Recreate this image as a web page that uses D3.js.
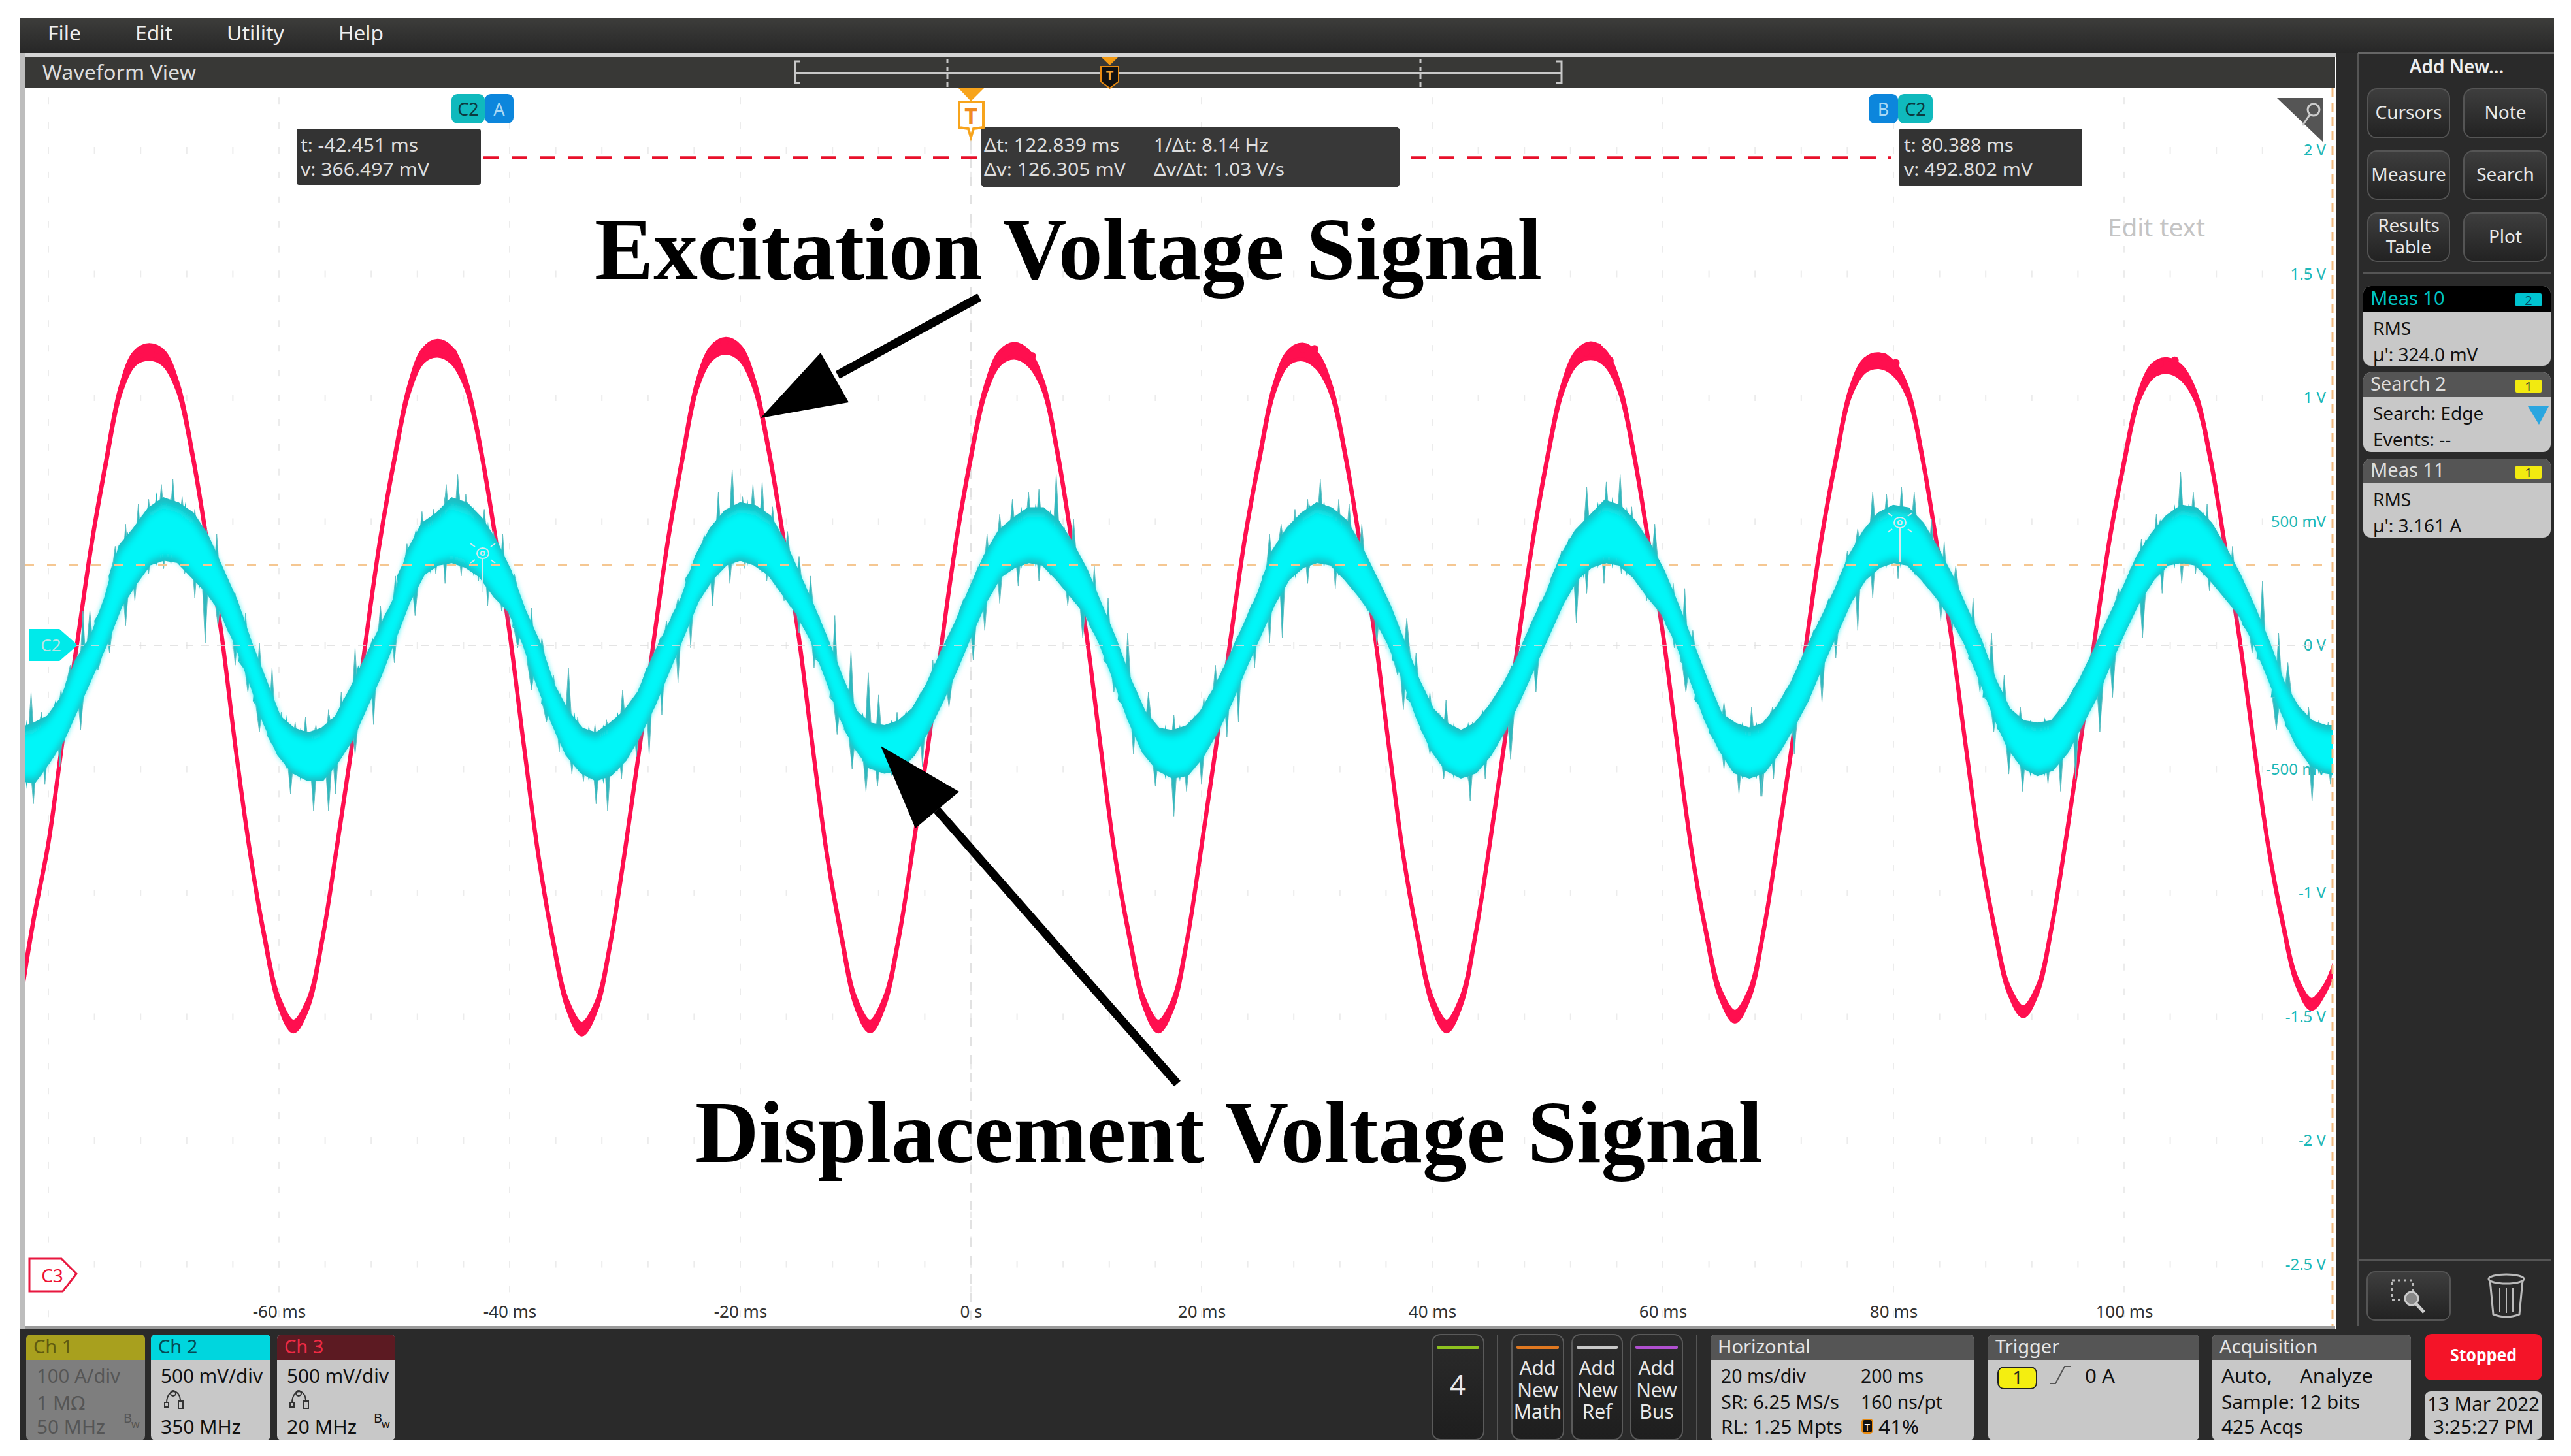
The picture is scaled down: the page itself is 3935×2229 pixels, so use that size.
<!DOCTYPE html>
<html lang="en">
<head>
<meta charset="UTF-8">
<title>Waveform View</title>
<script src="https://cdn.jsdelivr.net/npm/d3@7"></script>
<style>
  body { margin: 0; background: #fff; }
  text { font-family: "Noto Sans", sans-serif; }
</style>
</head>
<body>
<svg width="3935" height="2229"></svg>
<script>
// values, one sample every 1.25 ms starting at -82.5 ms
var redVolts = [-1.45,-1.10,-.80,-.38,.01,.41,.74,1.03,1.16,1.185,1.16,1.04,.77,.42,.05,-.42,-.84,-1.18,-1.44,-1.54,
  -1.45,-1.19,-.82,-.43,.01,.42,.75,1.03,1.17,1.20,1.17,1.05,.79,.44,.05,-.41,-.85,-1.19,-1.45,-1.55,
  -1.46,-1.20,-.83,-.42,.02,.43,.76,1.05,1.18,1.21,1.18,1.05,.78,.43,.06,-.40,-.84,-1.17,-1.44,-1.54,
  -1.44,-1.18,-.81,-.42,.02,.43,.76,1.03,1.16,1.19,1.16,1.05,.78,.42,.05,-.41,-.85,-1.18,-1.44,-1.54,
  -1.45,-1.19,-.81,-.41,.02,.43,.75,1.03,1.16,1.185,1.15,1.03,.76,.41,.05,-.41,-.85,-1.18,-1.44,-1.54,
  -1.44,-1.17,-.80,-.40,.03,.43,.76,1.03,1.16,1.19,1.16,1.04,.77,.42,.05,-.40,-.83,-1.16,-1.41,-1.50,
  -1.41,-1.15,-.78,-.39,.03,.43,.75,1.02,1.13,1.15,1.12,1.02,.76,.41,.04,-.40,-.82,-1.14,-1.39,-1.48,
  -1.39,-1.13,-.77,-.38,.04,.43,.74,1.0,1.11,1.13,1.10,1.0,.75,.40,.03,-.40,-.81,-1.12,-1.36,-1.45,
  -1.38,-1.22];
// half thickness of the red trace at each sample, it fattens at peaks and troughs
var redSpread = [.012,.004,.004,.004,.004,.004,.006,.012,.024,.028,.026,.014,.006,.004,.004,.004,.004,.006,.014,.02,
  .014,.004,.004,.004,.004,.004,.006,.012,.024,.03,.028,.014,.006,.004,.004,.004,.004,.006,.014,.022,
  .014,.004,.004,.004,.004,.004,.006,.012,.024,.028,.026,.014,.006,.004,.004,.004,.004,.006,.014,.02,
  .014,.004,.004,.004,.004,.004,.006,.012,.024,.028,.026,.014,.006,.004,.004,.004,.004,.006,.014,.02,
  .014,.004,.004,.004,.004,.004,.006,.012,.024,.03,.028,.014,.006,.004,.004,.004,.004,.006,.014,.02,
  .014,.004,.004,.004,.004,.004,.006,.012,.024,.03,.026,.014,.006,.004,.004,.004,.004,.006,.014,.02,
  .014,.004,.004,.004,.004,.004,.006,.012,.024,.026,.024,.014,.006,.004,.004,.004,.004,.006,.012,.018,
  .012,.004,.004,.004,.004,.004,.006,.012,.024,.026,.024,.014,.006,.004,.004,.004,.004,.006,.012,.018,
  .012,.008];
// little bumps on the noisy peaks and troughs: [ms, volts]
var redBumps = [[-72,1.21],[-70.5,1.21],[-47.1,1.204],[-46,1.228],[-44.9,1.198],
  [-58.8,-1.546],[-33.8,-1.56],
  [-21.4,1.24],[-22.4,1.19],[-20.3,1.2],[3.2,1.2],[4.1,1.22],[5.3,1.185],
  [-8.7,-1.546],[16.3,-1.546],
  [28.8,1.213],[29.8,1.213],[53.3,1.2],[54.4,1.22],[55.4,1.167],
  [41.6,-1.546],[66.1,-1.51],
  [77.7,1.167],[79.2,1.18],[80.2,1.157],[103.1,1.154],[104.4,1.167],
  [91.6,-1.49],[116.3,-1.47]];
var cyanUpper = [-.34,-.32,-.29,-.21,-.06,.03,.19,.40,.47,.55,.59,.57,.53,.44,.31,.18,.01,-.14,-.29,-.34,
  -.36,-.34,-.29,-.18,-.06,.06,.18,.38,.49,.53,.59,.57,.51,.42,.30,.14,.01,-.16,-.27,-.34,
  -.36,-.32,-.27,-.19,-.05,.07,.19,.36,.47,.54,.57,.56,.52,.42,.29,.16,.02,-.13,-.27,-.32,
  -.33,-.31,-.26,-.16,-.03,.09,.23,.36,.46,.51,.55,.55,.50,.41,.30,.16,.02,-.14,-.27,-.34,
  -.35,-.33,-.27,-.17,-.05,.08,.21,.38,.47,.53,.57,.55,.50,.40,.28,.16,.01,-.14,-.26,-.32,
  -.35,-.32,-.25,-.16,-.05,.09,.21,.36,.46,.52,.58,.56,.50,.41,.30,.16,.01,-.14,-.28,-.32,
  -.34,-.32,-.25,-.15,-.02,.10,.22,.36,.46,.53,.56,.55,.49,.39,.28,.15,.02,-.14,-.26,-.31,
  -.32,-.31,-.24,-.14,-.02,.11,.23,.36,.45,.52,.56,.55,.49,.39,.28,.15,.01,-.15,-.25,-.31,
  -.33,-.33];
var cyanLower = [-.54,-.55,-.47,-.38,-.25,-.12,.01,.16,.25,.33,.35,.34,.28,.22,.14,.01,-.14,-.31,-.44,-.51,
  -.54,-.54,-.47,-.38,-.25,-.12,.03,.18,.29,.33,.34,.32,.28,.20,.14,.01,-.16,-.31,-.44,-.51,
  -.54,-.52,-.46,-.36,-.24,-.10,.04,.18,.27,.33,.35,.33,.29,.21,.13,.02,-.13,-.29,-.41,-.49,
  -.51,-.50,-.44,-.34,-.22,-.09,.05,.18,.28,.32,.34,.33,.27,.20,.13,.01,-.14,-.30,-.43,-.50,
  -.53,-.52,-.45,-.35,-.23,-.09,.04,.17,.27,.32,.34,.33,.27,.20,.12,.01,-.13,-.29,-.42,-.50,
  -.53,-.51,-.44,-.34,-.22,-.09,.04,.17,.27,.32,.34,.33,.28,.20,.13,.01,-.14,-.30,-.42,-.51,
  -.53,-.51,-.43,-.33,-.22,-.08,.05,.18,.27,.32,.34,.33,.27,.20,.12,.01,-.13,-.28,-.41,-.49,
  -.52,-.50,-.43,-.32,-.21,-.07,.06,.18,.27,.33,.34,.33,.27,.20,.13,.02,-.12,-.27,-.40,-.48,
  -.51,-.52];
// small teeth on the band edge, one between each pair of samples
var cyanTopTeeth = [-.30,-.27,-.22,-.10,.02,.13,.34,.46,.53,.62,.61,.58,.50,.41,.27,.13,-.04,-.19,-.28,-.33,
  -.33,-.28,-.21,-.08,.03,.14,.32,.47,.52,.60,.62,.56,.50,.38,.26,.10,-.04,-.19,-.27,-.32,
  -.32,-.27,-.21,-.09,.04,.15,.30,.45,.53,.58,.59,.57,.49,.38,.25,.12,-.03,-.17,-.27,-.31,
  -.30,-.26,-.19,-.07,.05,.19,.32,.43,.50,.56,.58,.55,.48,.38,.25,.11,-.04,-.18,-.29,-.32,
  -.32,-.28,-.20,-.09,.04,.17,.31,.45,.51,.57,.59,.55,.47,.36,.24,.11,-.05,-.18,-.27,-.31,
  -.31,-.26,-.19,-.08,.04,.18,.31,.44,.50,.58,.60,.56,.48,.38,.25,.12,-.05,-.19,-.28,-.31,
  -.31,-.26,-.18,-.06,.07,.19,.31,.44,.51,.57,.58,.54,.46,.36,.24,.11,-.04,-.18,-.27,-.30,
  -.29,-.25,-.17,-.06,.07,.20,.32,.43,.51,.57,.58,.54,.46,.36,.24,.11,-.05,-.18,-.26,-.30,
  -.31];
var cyanBottomTeeth = [-.58,-.53,-.45,-.33,-.20,-.07,.07,.19,.28,.32,.32,.29,.23,.16,.05,-.09,-.25,-.40,-.50,-.55,
  -.57,-.53,-.44,-.34,-.20,-.06,.09,.22,.29,.31,.31,.28,.22,.15,.05,-.09,-.26,-.39,-.49,-.55,
  -.56,-.51,-.43,-.32,-.19,-.05,.09,.21,.28,.32,.32,.29,.23,.15,.06,-.07,-.23,-.37,-.47,-.52,
  -.53,-.49,-.41,-.30,-.17,-.04,.09,.21,.28,.31,.31,.28,.22,.15,.05,-.08,-.24,-.38,-.48,-.54,
  -.55,-.50,-.42,-.31,-.18,-.04,.09,.20,.27,.31,.31,.28,.22,.14,.05,-.07,-.23,-.37,-.48,-.54,
  -.55,-.49,-.41,-.30,-.17,-.04,.09,.20,.27,.31,.31,.28,.22,.15,.05,-.08,-.24,-.38,-.48,-.54,
  -.54,-.49,-.40,-.29,-.16,-.03,.10,.21,.27,.31,.31,.28,.22,.14,.05,-.07,-.22,-.36,-.47,-.53,
  -.53,-.48,-.39,-.28,-.15,-.02,.10,.21,.28,.31,.31,.28,.22,.15,.06,-.06,-.21,-.35,-.46,-.52,
  -.54];
// the tall noise spikes on the cyan trace: [ms, volts]
var cyanSpikes = [[-81.5,-.19],[-80.6,-.27],[-78.9,-.18],[-78.1,-.08],[-77.0,.14],[-76.4,.14],[-74.2,.40],[-73.3,.49],[-72.2,.57],[-71.3,.59],[-70.2,.65],[-69.2,.67],[-68.4,.60],[-67.3,.55],[-66.3,.47],[-65.4,.45],[-63.8,.21],[-62.9,.13],[-61.7,.01],[-60.6,-.09],[-59.8,-.27],[-58.6,-.31],[-57.7,-.29],[-56.8,-.32],[-55.7,-.26],[-54.6,-.19],[-53.4,-.01],[-51.2,.16],[-49.9,.28],[-48.9,.41],[-47.6,.54],[-46.6,.55],[-45.5,.65],[-44.5,.69],[-43.8,.61],[-42.2,.55],[-41.4,.46],[-40.6,.45],[-39.6,.29],[-38.1,.15],[-37.2,.03],[-36.2,-.12],[-34.9,-.09],[-34.1,-.29],[-32.6,-.32],[-31.6,-.30],
  [-81.3,-.64],[-80.3,-.56],[-79.0,-.49],[-77.2,-.34],[-75.7,-.10],[-74.7,-.03],[-73.3,.08],[-72.5,.18],[-71.3,.29],[-70.0,.31],[-68.2,.29],[-67.3,.19],[-66.4,.01],[-65.3,.08],[-63.8,-.08],[-62.7,-.19],[-61.7,-.35],[-60.4,-.42],[-59.0,-.60],[-57.0,-.67],[-55.7,-.67],[-55.1,-.60],[-53.4,-.44],[-51.8,-.32],[-50.0,-.07],[-48.2,.12],[-46.4,.29],[-45.6,.25],[-44.2,.28],[-42.7,.26],[-41.9,.16],[-40.7,.14],[-39.3,-.01],[-38.1,-.18],[-36.8,-.31],[-35.7,-.43],[-34.6,-.52],[-33.6,-.55],[-32.5,-.64],
  [-31.5,-.31],[-30.2,-.18],[-28.7,-.18],[-26.4,.10],[-25.4,.19],[-23.2,.43],[-21.9,.62],[-20.7,.71],[-19.8,.60],[-18.9,.65],[-18.1,.66],[-17.2,.56],[-15.9,.46],[-14.9,.36],[-13.9,.28],[-11.8,.12],[-10.4,-.02],[-8.9,-.11],[-8.0,-.20],[-6.4,-.27],[-4.5,-.22],[-3.3,-.06],[-1.4,.08],[1.4,.45],[2.5,.53],[3.6,.59],[5.0,.62],[5.9,.63],[7.4,.69],[8.9,.51],[10.7,.32],[11.9,.19],[13.6,.05],[15.4,-.19],[17.6,-.28],
  [-31.5,-.67],[-30.3,-.54],[-29,-.45],[-27.9,-.44],[-26.8,-.28],[-25.4,-.15],[-24.3,-.01],[-22.4,.16],[-20.9,.25],[-19.6,.31],[-17.7,.26],[-16.2,.18],[-14.9,.05],[-13.6,-.09],[-11.6,-.36],[-10.3,-.50],[-9.1,-.59],[-8.1,-.57],[-6.3,-.58],[-4.2,-.49],[-1.9,-.25],[.2,-.06],[1.2,.06],[2.5,.17],[4.1,.24],[5.9,.26],[8.4,.16],[9.7,.03],[12.4,-.19],[14.1,-.44],[16,-.57],[17.6,-.69],
  [18.8,-.32],[20.2,-.21],[21.2,-.08],[23.2,.03],[24.8,.2],[25.9,.45],[26.9,.49],[28.1,.55],[29.2,.59],[30.3,.67],[31.9,.59],[32.8,.57],[33.9,.49],[36,.19],[37.8,.11],[38.6,-.03],[39.8,-.19],[41.2,-.22],[43.5,-.31],[44.5,-.28],[46,-.19],[47.2,-.06],[49.7,.18],[51.2,.38],[53.4,.64],[55.1,.66],[56.3,.69],[57.3,.56],[59.3,.49],[60.9,.25],[61.9,.23],[62.6,.06],[65.3,-.23],[67.7,-.25],[69.2,-.30],
  [18.7,-.59],[20,-.56],[22.2,-.37],[23.2,-.31],[24.6,-.09],[25.9,.01],[27,.03],[29.2,.25],[31.6,.23],[32.6,.26],[34.4,.14],[35.2,0],[37,-.12],[37.5,-.26],[39.8,-.44],[41,-.54],[43.3,-.63],[44.6,-.54],[46.8,-.46],[49,-.19],[52.5,.09],[53.4,.21],[54.9,.25],[56.4,.29],[58.6,.18],[61,-.01],[62,-.19],[64.3,-.38],[65.3,-.5],[66.6,-.6],[68.6,-.61],
  [69.5,-.25],[71.6,-.17],[73.5,.10],[74.9,.19],[76,.38],[76.9,.47],[78.2,.62],[79.4,.61],[80.7,.64],[81.8,.62],[83.3,.51],[84.4,.42],[85.4,.32],[86.9,.19],[88.5,.05],[89.6,-.12],[91,-.25],[93.2,-.30],[94.8,-.25],[95.9,-.19],[96.9,-.10],[99.5,.23],[101.5,.43],[102.8,.53],[104.9,.70],[106,.62],[107.2,.57],[109.4,.40],[112,.26],[113.4,.05],[114.2,-.07],[116,-.25],[117.7,-.31],
  [68.5,-.61],[69.6,-.54],[71.4,-.44],[73.8,-.23],[75,-.05],[76.9,.06],[78.2,.19],[80.4,.27],[82.6,.25],[84.1,.10],[85.1,.06],[87.5,-.19],[88.7,-.35],[90,-.52],[91.2,-.59],[93.4,-.56],[94.5,-.59],[95.8,-.54],[97.9,-.35],[99,-.21],[101.6,.03],[103.3,.21],[105,.25],[106.2,.29],[107.4,.22],[108.8,.19],[111.1,-.03],[113.2,-.34],[114.3,-.34],[116.3,-.63],[117.9,-.56]];

var timeTicks = [-60, -40, -20, 0, 20, 40, 60, 80, 100];
var timeLabels = ['-60 ms', '-40 ms', '-20 ms', '0 s', '20 ms', '40 ms', '60 ms', '80 ms', '100 ms'];
var voltTicks = [2, 1.5, 1, .5, 0, -.5, -1, -1.5, -2, -2.5];
var voltLabels = ['2 V', '1.5 V', '1 V', '500 mV', '0 V', '-500 mV', '-1 V', '-1.5 V', '-2 V', '-2.5 V'];
var triggerLevel = .325; // orange dashed level
var cursorLevel = 1.97;  // red dashed cursor line

var svg = d3.select('svg');
var defs = svg.append('defs');

// 20 ms = 353 px, 500 mV = 189.5 px on the screen
var x = d3.scaleLinear().domain([-60, 100]).range([427, 3251]);
var y = d3.scaleLinear().domain([-2.5, 2]).range([1935.5, 230]);
var sampleTimes = redVolts.map(function (d, i) { return -82.5 + i * 1.25; });

function grad(id, a, b) {
  var g = defs.append('linearGradient').attr('id', id).attr('x1', 0).attr('y1', 0).attr('x2', 0).attr('y2', 1);
  g.append('stop').attr('offset', 0).attr('stop-color', a);
  g.append('stop').attr('offset', 1).attr('stop-color', b);
}
grad('topbar', '#3d3d3b', '#272727');
grad('btn', '#3e3e3e', '#222');
grad('btn2', '#2b2b2b', '#1e1e1e');
defs.append('filter').attr('id', 'soft').append('feGaussianBlur').attr('stdDeviation', 5);

function box(parent, x0, y0, x1, y1, fill, r, stroke) {
  return parent.append('rect').attr('x', x0).attr('y', y0).attr('width', x1 - x0).attr('height', y1 - y0)
    .attr('fill', fill).attr('rx', r || 0).attr('stroke', stroke || 'none').attr('stroke-width', stroke ? 2 : 0);
}
function label(parent, px, py, str, size, fill, anchor, width) {
  var t = parent.append('text').attr('x', px).attr('y', py).text(str).attr('font-size', size)
    .attr('fill', fill).attr('text-anchor', anchor || 'start');
  if (width) t.attr('textLength', width).attr('lengthAdjust', 'spacingAndGlyphs');
  return t;
}
// several lines held in one text element
function stacked(parent, px, py, rows, gap, size, fill) {
  var t = parent.append('text').attr('font-size', size).attr('fill', fill).attr('text-anchor', 'middle');
  rows.forEach(function (s, i) {
    t.append('tspan').attr('x', px).attr('y', py + i * gap).text(s);
  });
}

// ---- dark frame
box(svg, 31, 27, 3909, 81, 'url(#topbar)');
box(svg, 31, 81, 38, 2035, '#bdbdbd');
box(svg, 38, 81, 3576, 87, '#d4d4d4');
box(svg, 38, 87, 3574, 135, '#383836');
box(svg, 3576, 81, 3909, 2035, '#2a2a2a');
box(svg, 31, 2035, 3909, 2205, '#2a2a2a');
box(svg, 38, 2030, 3574, 2035, '#9a9a9a');
svg.append('line').attr('x1', 3609).attr('x2', 3609).attr('y1', 81).attr('y2', 2030).attr('stroke', '#555').attr('stroke-width', 2);
svg.append('line').attr('x1', 3609).attr('x2', 3909).attr('y1', 81).attr('y2', 81).attr('stroke', '#666').attr('stroke-width', 2);

[['File', 73, 51], ['Edit', 207, 57], ['Utility', 347, 88], ['Help', 518, 69]].forEach(function (m) {
  label(svg, m[1], 62, m[0], 30, '#eee', 'start', m[2]);
});
label(svg, 65, 122, 'Waveform View', 31, '#ddd', 'start', 235);

// overview bar
var bar = svg.append('g').attr('stroke', '#c8c8c8').attr('fill', 'none').attr('stroke-width', 3);
bar.append('line').attr('x1', 1217).attr('x2', 2390).attr('y1', 112).attr('y2', 112).attr('stroke-width', 4);
bar.append('path').attr('d', 'M1225,94H1217V127H1225M2381,94H2390V127H2381');
bar.append('line').attr('x1', 1450).attr('x2', 1450).attr('y1', 90).attr('y2', 134).attr('stroke-dasharray', '7 5');
bar.append('line').attr('x1', 2174).attr('x2', 2174).attr('y1', 90).attr('y2', 134).attr('stroke-dasharray', '7 5');
svg.append('path').attr('d', 'M1686,88H1711L1698.500,100Z').attr('fill', '#f39a12');
svg.append('path').attr('d', 'M1685,102H1712V125L1698.500,135L1685,125Z').attr('fill', '#111').attr('stroke', '#e88a10').attr('stroke-width', 2);
label(svg, 1698.5, 122, 'T', 20, '#f3a030', 'middle').attr('font-weight', 700);

// ---- plot
svg.append('clipPath').attr('id', 'plotClip').append('rect').attr('x', 38).attr('y', 135).attr('width', 3532).attr('height', 1895);
var plot = svg.append('g');

// faint grid dots
var gridColor = '#ececec';
var minorTimes = d3.range(-80, 120, 4);
var majorTimes = d3.range(-80, 120, 20);
var minorVolts = d3.range(-27, 23).map(function (d) { return d / 10; });
var gridDots = [];
majorTimes.forEach(function (t) { minorVolts.forEach(function (v) { gridDots.push([t, v]); }); });
[-2.5, -2, -1.5, -1, -.5, 0, .5, 1, 1.5, 2].forEach(function (v) { minorTimes.forEach(function (t) { gridDots.push([t, v]); }); });
plot.append('g').selectAll('rect').data(gridDots).enter().append('rect')
  .attr('x', function (d) { return x(d[0]) - 1; }).attr('y', function (d) { return y(d[1]) - 5; })
  .attr('width', 2).attr('height', 10).attr('fill', gridColor);
plot.append('line').attr('x1', x(0)).attr('x2', x(0)).attr('y1', 215).attr('y2', 2030)
  .attr('stroke', '#e2e2e2').attr('stroke-width', 3).attr('stroke-dasharray', '14 14');

// axes
var xAxis = d3.axisBottom(x).tickValues(timeTicks).tickSize(0)
  .tickFormat(function (d, i) { return timeLabels[i]; });
var gx = plot.append('g').attr('transform', 'translate(0,1983)').call(xAxis);
gx.select('.domain').remove();
gx.selectAll('text').attr('font-size', 26).attr('fill', '#333').attr('y', 16).attr('font-family', '"Noto Sans"');

var yAxis = d3.axisRight(y).tickValues(voltTicks).tickSize(0)
  .tickFormat(function (d, i) { return voltLabels[i]; });
var gy = plot.append('g').attr('transform', 'translate(3560,0)').call(yAxis);
gy.select('.domain').remove();
gy.selectAll('text').attr('font-size', 24).attr('fill', '#1bb8b8').attr('x', 0)
  .attr('text-anchor', 'end').attr('font-family', '"DejaVu Sans"');

label(plot, 3226, 362, 'Edit text', 38, '#c4c4c4', 'start', 149);

// ---- traces
var wave = plot.append('g').attr('clip-path', 'url(#plotClip)');
var samples = sampleTimes.map(function (t, i) {
  return { t: t, red: redVolts[i], spread: redSpread[i], hi: cyanUpper[i], lo: cyanLower[i] };
});

var redBand = d3.area().curve(d3.curveCatmullRom)
  .x(function (d) { return x(d.t); })
  .y0(function (d) { return y(d.red - d.spread); })
  .y1(function (d) { return y(d.red + d.spread); });
wave.append('path').datum(samples).attr('d', redBand)
  .attr('fill', '#ff0f4f').attr('stroke', '#ff0f4f').attr('stroke-width', 6);
wave.append('g').selectAll('circle').data(redBumps).enter().append('circle')
  .attr('cx', function (d) { return x(d[0]); }).attr('cy', function (d) { return y(d[1]) + (d[1] > 0 ? 6 : -6); })
  .attr('r', 6).attr('fill', '#ff0f4f');

// spikes and teeth are thin wedges that grow out of the middle of the band
var nearest = d3.bisector(function (d) { return d.t; }).center;
function wedge(halfWidth) {
  return function (d) {
    var s = samples[nearest(samples, d[0])];
    var base = y((s.hi + s.lo) / 2), px = x(d[0]);
    return 'M' + (px - halfWidth) + ',' + base + 'L' + px + ',' + y(d[1]) + 'L' + (px + halfWidth) + ',' + base + 'Z';
  };
}
var teeth = [];
cyanTopTeeth.forEach(function (v, i) { teeth.push([sampleTimes[i] + .625, v]); });
cyanBottomTeeth.forEach(function (v, i) { teeth.push([sampleTimes[i] + .625, v]); });
wave.append('g').selectAll('path').data(teeth).enter().append('path')
  .attr('d', wedge(7)).attr('fill', '#1fbcc2');
wave.append('g').selectAll('path').data(cyanSpikes).enter().append('path')
  .attr('d', wedge(6)).attr('fill', '#2fb8be').attr('stroke', '#62bfc3').attr('stroke-width', 1);

function bandPath(topShare, bottomShare) {
  return d3.area()
    .x(function (d) { return x(d.t); })
    .y0(function (d) { return y(d.lo + (d.hi - d.lo) * bottomShare); })
    .y1(function (d) { return y(d.hi - (d.hi - d.lo) * topShare); });
}
wave.append('path').datum(samples).attr('d', bandPath(0, 0))
  .attr('fill', '#1fbcc2').attr('stroke', '#1fbcc2').attr('stroke-width', 6);
var core = wave.append('g').attr('filter', 'url(#soft)');
core.append('path').datum(samples).attr('d', bandPath(.1, .06))
  .attr('fill', '#08e2e6').attr('stroke', '#08e2e6').attr('stroke-width', 6);
core.append('path').datum(samples).attr('d', bandPath(.2, .14))
  .attr('fill', '#00f6f8').attr('stroke', '#00f6f8').attr('stroke-width', 6);

// trigger level and ground
plot.append('line').attr('x1', 38).attr('x2', 3570).attr('y1', y(triggerLevel)).attr('y2', y(triggerLevel))
  .attr('stroke', '#f5c792').attr('stroke-width', 3).attr('stroke-dasharray', '14 20');
plot.append('line').attr('x1', 116).attr('x2', 3570).attr('y1', y(0)).attr('y2', y(0))
  .attr('stroke', '#dedede').attr('stroke-width', 2).attr('stroke-dasharray', '12 12').attr('opacity', .8);
plot.append('line').attr('x1', 3570).attr('x2', 3570).attr('y1', 135).attr('y2', 2030)
  .attr('stroke', '#f2bb80').attr('stroke-width', 3).attr('stroke-dasharray', '14 8');

// measurement markers on the trace
[[739, 847], [2908, 800]].forEach(function (m) {
  var g = plot.append('g').attr('transform', 'translate(' + m[0] + ',' + m[1] + ')').attr('fill', 'none').attr('stroke', '#d8e8ec').attr('stroke-width', 2);
  g.append('ellipse').attr('rx', 9).attr('ry', 8);
  g.append('circle').attr('r', 3);
  g.append('line').attr('x1', 0).attr('y1', 8).attr('x2', 0).attr('y2', 60);
  g.selectAll('.petal').data([[-1, -1], [1, -1], [-1, 1], [1, 1]]).enter().append('line').attr('class', 'petal')
    .attr('x1', function (d) { return d[0] * 12; }).attr('y1', function (d) { return d[1] * 10; })
    .attr('x2', function (d) { return d[0] * 19; }).attr('y2', function (d) { return d[1] * 15; });
});

// channel flags
plot.append('path').attr('d', 'M45,963H91L116,985V990L91,1012H45Z').attr('fill', '#00eaea');
label(plot, 78, 997, 'C2', 26, '#b8e4e4', 'middle');
plot.append('path').attr('d', 'M45,1927H94L117,1950L96,1977H45Z').attr('fill', '#fff').attr('stroke', '#e8173f').attr('stroke-width', 3);
label(plot, 80, 1963, 'C3', 28, '#ee1133', 'middle');

// cursor readouts
plot.append('line').attr('x1', 740).attr('x2', 2894).attr('y1', y(cursorLevel)).attr('y2', y(cursorLevel))
  .attr('stroke', '#e8102a').attr('stroke-width', 4).attr('stroke-dasharray', '24 19');
function cursorTag(x0, parts) {
  parts.forEach(function (p) {
    box(plot, x0 + p[1], 144, x0 + p[2], 189, p[3], 9);
    label(plot, (2 * x0 + p[1] + p[2]) / 2, 177, p[0], 27, p[4], 'middle');
  });
}
cursorTag(691, [['C2', 0, 51, '#10b9bd', '#0c3a40'], ['A', 51, 95, '#0c86dc', '#a8d8f4']]);
cursorTag(2860, [['B', 0, 45, '#0c86dc', '#a8d8f4'], ['C2', 45, 98, '#10b9bd', '#0c3a40']]);

box(plot, 454, 197, 736, 283, '#333', 4);
label(plot, 460, 232, 't: -42.451 ms', 28, '#ddd', 'start', 180);
label(plot, 460, 269, 'v: 366.497 mV', 28, '#ddd', 'start', 197);
box(plot, 1501, 194, 2143, 287, '#383838', 8);
label(plot, 1506, 232, '\u0394t: 122.839 ms', 28, '#ddd', 'start', 207);
label(plot, 1766, 232, '1/\u0394t: 8.14 Hz', 28, '#ddd', 'start', 175);
label(plot, 1506, 269, '\u0394v: 126.305 mV', 28, '#ddd', 'start', 217);
label(plot, 1766, 269, '\u0394v/\u0394t: 1.03 V/s', 28, '#ddd', 'start', 200);
box(plot, 2907, 197, 3187, 285, '#333', 2);
label(plot, 2914, 232, 't: 80.388 ms', 28, '#ddd', 'start', 168);
label(plot, 2914, 269, 'v: 492.802 mV', 28, '#ddd', 'start', 197);

// orange trigger marker
plot.append('path').attr('d', 'M1467,135H1506L1486,155Z').attr('fill', '#f7a41c');
plot.append('path').attr('d', 'M1468,156H1505V195L1490,197L1486,210L1482,197L1468,195Z').attr('fill', '#fff').attr('stroke', '#f7a41c').attr('stroke-width', 4);
label(plot, 1486, 190, 'T', 34, '#f08a20', 'middle').attr('font-weight', 700);

// zoom corner
plot.append('path').attr('d', 'M3485,150H3556V218Z').attr('fill', '#555');
plot.append('circle').attr('cx', 3541).attr('cy', 168).attr('r', 9).attr('fill', 'none').attr('stroke', '#ccc').attr('stroke-width', 3);
plot.append('line').attr('x1', 3535).attr('y1', 176).attr('x2', 3524).attr('y2', 192).attr('stroke', '#ccc').attr('stroke-width', 3);

// ---- annotations
var note = svg.append('g');
label(note, 910, 427, 'Excitation Voltage Signal', 135, '#000', 'start', 1450)
  .attr('font-weight', 700).style('font-family', '"Liberation Serif"');
label(note, 1064, 1779, 'Displacement Voltage Signal', 135, '#000', 'start', 1634)
  .attr('font-weight', 700).style('font-family', '"Liberation Serif"');
note.append('line').attr('x1', 1499).attr('y1', 455).attr('x2', 1282).attr('y2', 574).attr('stroke', '#000').attr('stroke-width', 13);
note.append('path').attr('d', 'M1164,640L1256,540L1299,616Z').attr('fill', '#000');
note.append('line').attr('x1', 1434).attr('y1', 1240).attr('x2', 1802).attr('y2', 1659).attr('stroke', '#000').attr('stroke-width', 13);
note.append('path').attr('d', 'M1348,1142L1468,1212L1401,1268Z').attr('fill', '#000');

// ---- right panel
var side = svg.append('g');
label(side, 3760, 112, 'Add New...', 28, '#eee', 'middle').attr('font-weight', 600);
function sideBtn(x0, x1, y0, y1, rows, base) {
  box(side, x0, y0, x1, y1, 'url(#btn)', 14, '#555');
  stacked(side, (x0 + x1) / 2, base, rows, 33, 28, '#e8e8e8');
}
sideBtn(3624, 3749, 136, 211, ['Cursors'], 182);
sideBtn(3771, 3898, 136, 211, ['Note'], 182);
sideBtn(3624, 3749, 231, 305, ['Measure'], 277);
sideBtn(3771, 3898, 231, 305, ['Search'], 277);
sideBtn(3624, 3749, 326, 400, ['Results', 'Table'], 355);
sideBtn(3771, 3898, 326, 400, ['Plot'], 372);
box(side, 3617, 416, 3904, 420, '#555');

function card(y0, y1, headBottom, headFill, title, titleFill, chip, chipFill, chipText) {
  box(side, 3617, y0, 3904, y1, '#c8c8c8', 12);
  box(side, 3617, y0, 3904, headBottom, headFill, 12);
  box(side, 3617, headBottom - 14, 3904, headBottom, headFill);
  label(side, 3628, headBottom - 10, title, 29, titleFill);
  box(side, 3850, y0 + 11, 3890, y0 + 31, chipFill, 2);
  label(side, 3870, y0 + 29, chip, 20, chipText, 'middle');
}
card(438, 560, 477, '#000', 'Meas 10', '#00c4c4', '2', '#00c4d0', '#064a60');
label(side, 3632, 513, 'RMS', 28, '#111');
label(side, 3632, 553, '\u00b5\': 324.0 mV', 28, '#111');
card(570, 692, 608, '#555', 'Search 2', '#ddd', '1', '#f2ea10', '#333');
label(side, 3632, 643, 'Search: Edge', 28, '#111');
label(side, 3632, 683, 'Events: --', 28, '#111');
side.append('path').attr('d', 'M3869,622H3901L3886,650Z').attr('fill', '#2aa6e0');
card(702, 823, 740, '#555', 'Meas 11', '#ddd', '1', '#f2ea10', '#333');
label(side, 3632, 775, 'RMS', 28, '#111');
label(side, 3632, 815, '\u00b5\': 3.161 A', 28, '#111');

box(side, 3609, 1928, 3905, 1930, '#555');
box(side, 3623, 1947, 3750, 2021, 'url(#btn)', 12, '#555');
side.append('rect').attr('x', 3661).attr('y', 1960).attr('width', 32).attr('height', 30).attr('fill', 'none').attr('stroke', '#bbb').attr('stroke-width', 3).attr('stroke-dasharray', '4 5');
side.append('circle').attr('cx', 3691).attr('cy', 1988).attr('r', 10).attr('fill', '#888').attr('stroke', '#ccc').attr('stroke-width', 3);
side.append('line').attr('x1', 3698).attr('y1', 1996).attr('x2', 3710).attr('y2', 2009).attr('stroke', '#ccc').attr('stroke-width', 5);
// bin
var bin = side.append('g').attr('fill', 'none').attr('stroke', '#bbb').attr('stroke-width', 3);
bin.append('ellipse').attr('cx', 3836).attr('cy', 1958).attr('rx', 27).attr('ry', 7);
bin.append('path').attr('d', 'M3811,1960L3816,2012Q3836,2020 3856,2012L3861,1960');
bin.append('path').attr('d', 'M3826,1972V2008M3836,1972V2010M3846,1972V2008').attr('stroke-width', 2);

// ---- bottom strip
var foot = svg.append('g');
function panel(x0, x1, headFill, bodyFill, title, titleFill) {
  box(foot, x0, 2043, x1, 2205, bodyFill, 7);
  box(foot, x0, 2043, x1, 2082, headFill, 7);
  box(foot, x0, 2072, x1, 2082, headFill);
  label(foot, x0 + 11, 2072, title, 29, titleFill);
}
panel(40, 222, '#a8a01e', '#7e7e7e', 'Ch 1', '#5f5a10');
panel(231, 414, '#00d6de', '#c8c8c8', 'Ch 2', '#064a55');
panel(424, 605, '#5c1a22', '#c8c8c8', 'Ch 3', '#ee2a44');
function lines(px, rows, fill, size) {
  rows.forEach(function (r) { label(foot, px, r[0], r[1], size || 29, fill, 'start', r[2]); });
}
lines(56, [[2117, '100 A/div', 128], [2158, '1 M\u03a9', 74], [2195, '50 MHz', 105]], '#555');
lines(246, [[2117, '500 mV/div', 156], [2195, '350 MHz', 123]], '#111');
lines(439, [[2117, '500 mV/div', 156], [2195, '20 MHz', 107]], '#111');
label(foot, 189, 2178, 'B', 20, '#555');
label(foot, 201, 2186, 'w', 16, '#555');
label(foot, 572, 2178, 'B', 20, '#111');
label(foot, 584, 2186, 'w', 16, '#111');
[252, 444].forEach(function (px) {
  var g = foot.append('g').attr('fill', 'none').attr('stroke', '#333').attr('stroke-width', 2);
  g.append('path').attr('d', 'M' + (px + 3) + ',2148C' + (px + 3) + ',2125 ' + (px + 24) + ',2125 ' + (px + 24) + ',2145');
  g.append('rect').attr('x', px).attr('y', 2147).attr('width', 6).attr('height', 7);
  g.append('rect').attr('x', px + 21).attr('y', 2145).attr('width', 7).attr('height', 11);
  g.append('circle').attr('cx', px + 13).attr('cy', 2133).attr('r', 4);
});

function footBtn(x0, x1, barColor, rows) {
  box(foot, x0, 2043, x1, 2204, 'url(#btn2)', 13, '#5a5a5a');
  box(foot, x0 + 7, 2060, x1 - 7, 2065, barColor, 2);
  stacked(foot, (x0 + x1) / 2, 2105, rows, 33.5, 30, '#e8e8e8');
}
footBtn(2192, 2271, '#8ec21f', []);
label(foot, 2231, 2135, '4', 42, '#e8e8e8', 'middle');
footBtn(2314, 2393, '#e07820', ['Add', 'New', 'Math']);
footBtn(2406, 2483, '#c8c8c8', ['Add', 'New', 'Ref']);
footBtn(2496, 2575, '#b050d0', ['Add', 'New', 'Bus']);
box(foot, 2291, 2043, 2293, 2205, '#555');
box(foot, 2596, 2043, 2598, 2205, '#555');

panel(2618, 3021, '#555', '#c8c8c8', 'Horizontal', '#e6e6e6');
lines(2634, [[2117, '20 ms/div', 130], [2157, 'SR: 6.25 MS/s', 181], [2195, 'RL: 1.25 Mpts', 186]], '#111');
lines(2848, [[2117, '200 ms', 96], [2157, '160 ns/pt', 125]], '#111');
box(foot, 2850, 2173, 2866, 2194, '#111', 4, '#e88a10');
label(foot, 2858, 2190, 'T', 15, '#fff', 'middle');
label(foot, 2875, 2195, '41%', 29, '#111', 'start', 62);

panel(3043, 3366, '#555', '#c8c8c8', 'Trigger', '#e6e6e6');
box(foot, 3058, 2093, 3117, 2126, '#f4ee10', 9, '#222');
label(foot, 3088, 2119, '1', 28, '#222', 'middle');
foot.append('path').attr('d', 'M3138,2118H3146L3160,2092H3170').attr('fill', 'none').attr('stroke', '#555').attr('stroke-width', 2);
label(foot, 3191, 2117, '0 A', 29, '#111', 'start', 46);

panel(3386, 3690, '#555', '#c8c8c8', 'Acquisition', '#e6e6e6');
lines(3400, [[2117, 'Auto,', 78], [2157, 'Sample: 12 bits', 212], [2195, '425 Acqs', 125]], '#111');
label(foot, 3520, 2117, 'Analyze', 29, '#111', 'start', 112);

box(foot, 3711, 2042, 3891, 2113, '#f41428', 11);
label(foot, 3801, 2084, 'Stopped', 26, '#fff', 'middle', 102).attr('font-weight', 700);
box(foot, 3711, 2130, 3891, 2204, '#c8c8c8', 9);
label(foot, 3801, 2160, '13 Mar 2022', 29, '#111', 'middle', 172);
label(foot, 3801, 2195, '3:25:27 PM', 29, '#111', 'middle', 154);
</script>
</body>
</html>
